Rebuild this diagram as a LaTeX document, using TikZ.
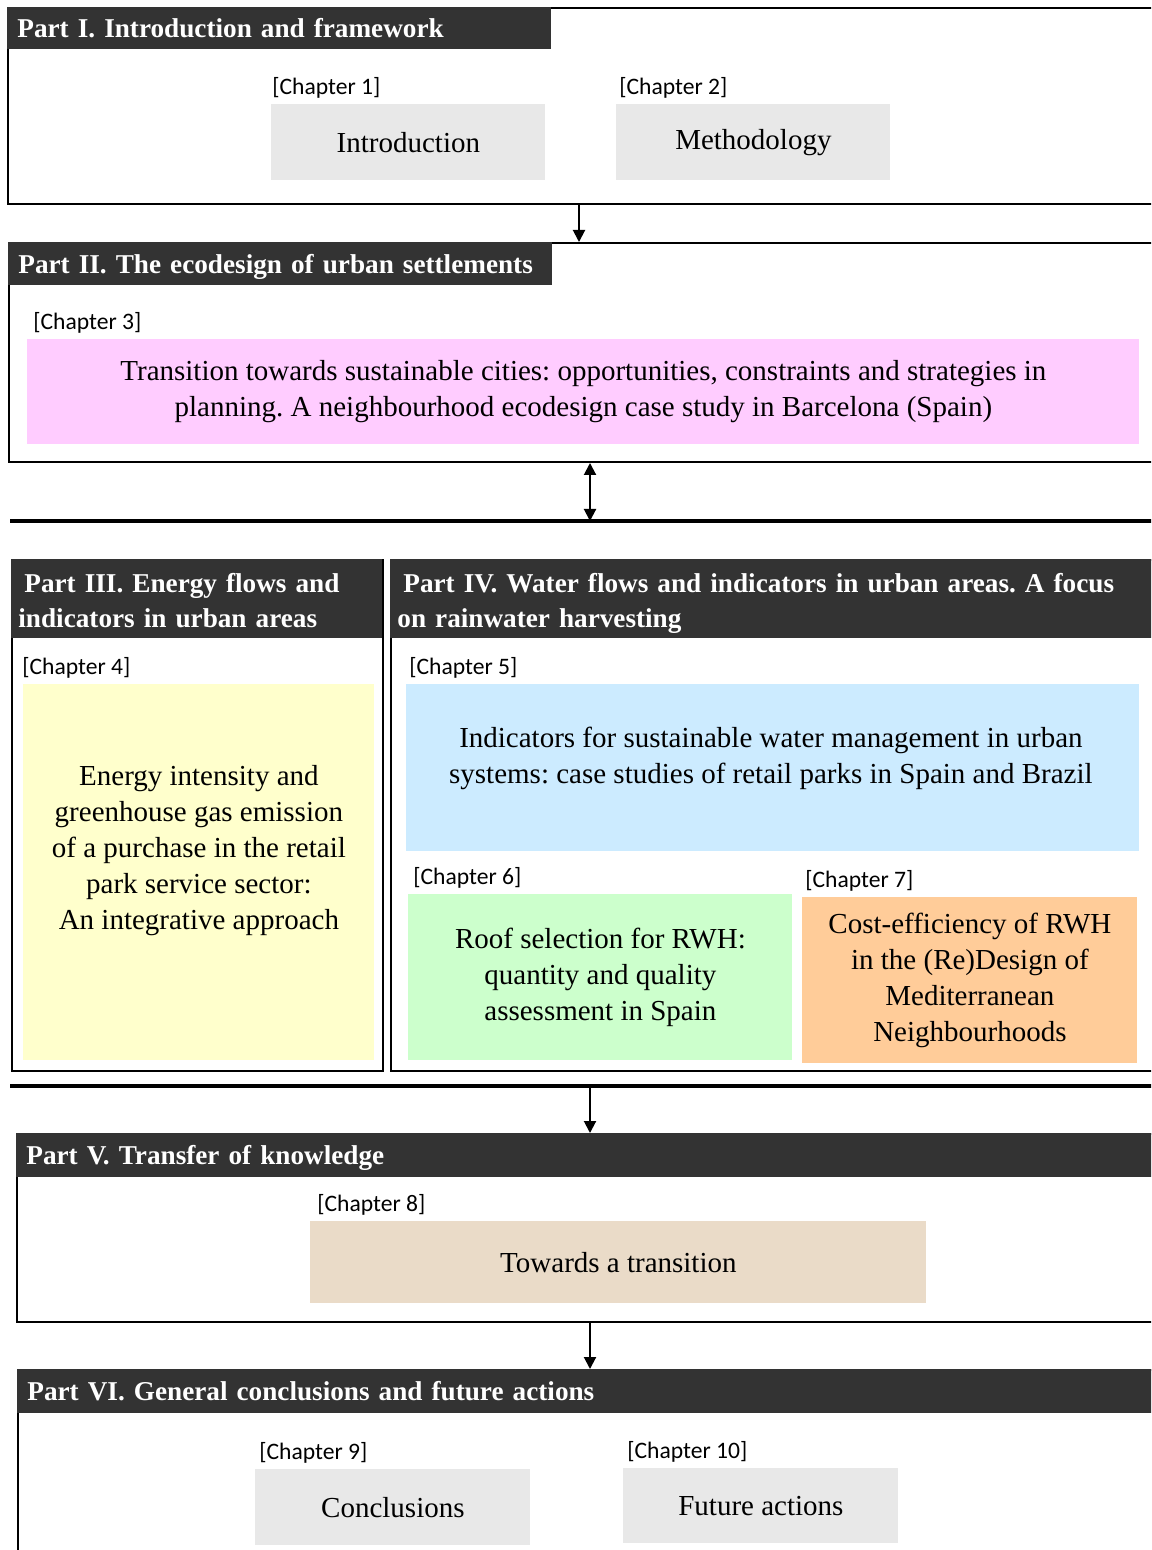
\documentclass[tikz,border=0pt]{standalone}
\usepackage{fontspec}
\setmainfont{Liberation Serif}
\newfontfamily\chapfont{Carlito}
\usetikzlibrary{positioning, arrows.meta}
\definecolor{barc}{HTML}{333333}
\definecolor{greyc}{HTML}{E8E8E8}
\definecolor{pinkc}{HTML}{FFCCFF}
\definecolor{yellowc}{HTML}{FFFFCC}
\definecolor{bluec}{HTML}{CCEBFF}
\definecolor{greenc}{HTML}{CCFFCC}
\definecolor{orangec}{HTML}{FFCC99}
\definecolor{tanc}{HTML}{EADBC8}
\frenchspacing

\begin{document}
\begin{tikzpicture}[x=0.5pt, y=-0.5pt,
    frame/.style={draw, line width=1pt, anchor=north west, inner sep=0pt},
    bar/.style={fill=barc, text=white, anchor=north west, inner xsep=5pt, inner ysep=0pt,
        text depth=0pt, align=left, font=\bfseries\fontsize{13.6}{17.5}\selectfont},
    twobar/.style={bar, text depth=15.7pt, inner xsep=3.5pt, minimum height=39.5pt},
    box/.style={anchor=north west, inner sep=0pt, align=center,
        font=\fontsize{14.5}{18}\selectfont},
    txt/.style={align=center, font=\fontsize{14.5}{18}\selectfont},
    chap/.style={inner sep=0pt, font=\chapfont\fontsize{11.8}{13}\selectfont},
    arr/.style={-{Triangle[length=6pt,width=6pt]}, line width=1pt},
    dblarr/.style={{Triangle[length=6pt,width=6pt]}-{Triangle[length=6pt,width=6pt]}, line width=1pt},
    sepline/.style={line width=2pt}]
    \clip (0,0) rectangle (1151,1550);

    % Part I
    \node[frame, minimum width=576.5pt, minimum height=98pt] (p1) at (7,7) {};
    \node[bar, minimum width=272pt, minimum height=21pt, text width=262pt] (t1) at (7,7) {Part I. Introduction and framework};
    \node[box, fill=greyc, minimum width=137pt, minimum height=38pt] (intro) at (271,104) {Introduction};
    \node[box, fill=greyc, minimum width=137pt, minimum height=38pt] (method) at (616,104) {Methodology};
    \node[chap, above=2.5pt of intro.north west, anchor=south west, xshift=0.5pt] (c1) {[Chapter 1]};
    \node[chap, above=2.5pt of method.north west, anchor=south west, xshift=1.5pt] (c2) {[Chapter 2]};

    % Part II
    \node[frame, minimum width=576pt, minimum height=109.5pt] (p2) at (8,242) {};
    \node[bar, minimum width=272pt, minimum height=21.5pt, text width=262pt] (t2) at (8,242) {Part II. The ecodesign of urban settlements};
    \node[box, fill=pinkc, minimum width=556pt, minimum height=52.5pt] (eco) at (27,339)
        {Transition towards sustainable cities: opportunities, constraints and strategies in\\
         planning. A neighbourhood ecodesign case study in Barcelona (Spain)};
    \node[chap, above=2.5pt of eco.north west, anchor=south west, xshift=3pt] (c3) {[Chapter 3]};

    \coordinate (sepA) at (590,521);
    \coordinate (sepB) at (590,1086);
    \draw[sepline] (sepA -| 10,0) -- (sepA -| 1160,0);
    \draw[sepline] (sepB -| 10,0) -- (sepB -| 1160,0);

    % Part III
    \node[frame, minimum width=185.5pt, minimum height=255.5pt] (p3) at (11,559) {};
    \node[twobar, minimum width=185.5pt, text width=178.5pt] (t3) at (11,559)
        {\hspace{3pt}Part III. Energy flows and\\indicators in urban areas};
    \node[box, fill=yellowc, minimum width=175.5pt, minimum height=188pt] (energy) at (23,684) {};
    \node[txt] (energyt) at ([yshift=11pt]energy.center)
        {Energy intensity and\\greenhouse gas emission\\of a purchase in the retail\\park service sector:\\An integrative approach};
    \node[chap, above=2.5pt of energy.north west, anchor=south west, xshift=-0.5pt] (c4) {[Chapter 4]};

    % Part IV
    \node[frame, minimum width=385pt, minimum height=255.5pt] (p4) at (390,559) {};
    \node[twobar, minimum width=385pt, text width=378pt] (t4) at (390,559)
        {\hspace{3pt}Part IV. Water flows and indicators in urban areas. A focus\\on rainwater harvesting};
    \node[box, fill=bluec, minimum width=366.5pt, minimum height=83.5pt] (water) at (406,684) {};
    \node[txt] (watert) at ([yshift=4.5pt,xshift=-1pt]water.center)
        {Indicators for sustainable water management in urban\\systems: case studies of retail parks in Spain and Brazil};
    \node[chap, above=2.5pt of water.north west, anchor=south west, xshift=1.5pt] (c5) {[Chapter 5]};
    \node[box, fill=greenc, minimum width=192pt, minimum height=83pt] (roof) at (408,894)
        {Roof selection for RWH:\\quantity and quality\\assessment in Spain};
    \node[chap, above=2.5pt of roof.north west, anchor=south west, xshift=2.5pt] (c6) {[Chapter 6]};
    \node[box, fill=orangec, minimum width=167.5pt, minimum height=83pt] (cost) at (802,897)
        {Cost-efficiency of RWH\\in the (Re)Design of\\Mediterranean\\Neighbourhoods};
    \node[chap, above=2.5pt of cost.north west, anchor=south west, xshift=1.5pt] (c7) {[Chapter 7]};

    % Part V
    \node[frame, minimum width=572pt, minimum height=94pt] (p5) at (16,1133) {};
    \node[bar, minimum width=572pt, minimum height=22pt, text width=562pt] (t5) at (16,1133) {Part V. Transfer of knowledge};
    \node[box, fill=tanc, minimum width=308pt, minimum height=41pt] (trans) at (310,1221) {Towards a transition};
    \node[chap, above=2.5pt of trans.north west, anchor=south west, xshift=3.5pt] (c8) {[Chapter 8]};

    % Part VI
    \node[frame, minimum width=571.5pt, minimum height=100pt] (p6) at (17,1369) {};
    \node[bar, minimum width=571.5pt, minimum height=22pt, text width=561.5pt] (t6) at (17,1369) {Part VI. General conclusions and future actions};
    \node[box, fill=greyc, minimum width=137.5pt, minimum height=38pt] (concl) at (255,1469) {Conclusions};
    \node[box, fill=greyc, minimum width=137.5pt, minimum height=37.5pt] (future) at (623,1468) {Future actions};
    \node[chap, above=2.5pt of concl.north west, anchor=south west, xshift=2pt] (c9) {[Chapter 9]};
    \node[chap, above=2.5pt of future.north west, anchor=south west, xshift=2pt] (c10) {[Chapter 10]};

    % connectors
    \coordinate (ax1) at (579,0);
    \draw[arr] (p1.south -| ax1) -- (p2.north -| ax1);
    \draw[dblarr] (p2.south -| sepA) -- (sepA);
    \draw[arr] (sepB) -- (p5.north -| sepB);
    \draw[arr] (p5.south -| sepB) -- (p6.north -| sepB);
\end{tikzpicture}
\end{document}
